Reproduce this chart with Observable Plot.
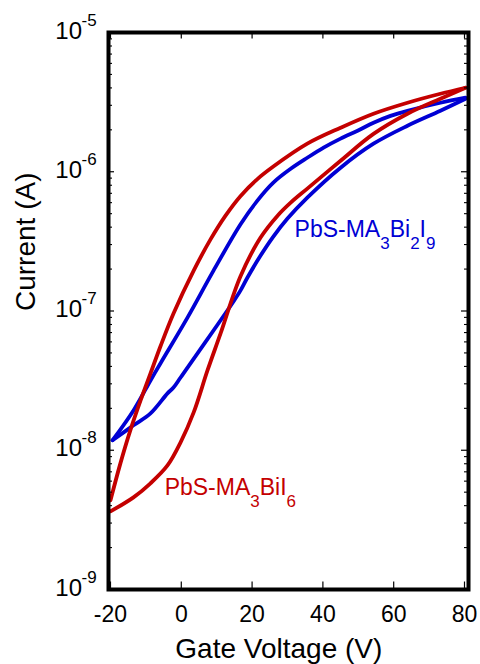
<!DOCTYPE html>
<html>
<head>
<meta charset="utf-8">
<script src="https://cdn.jsdelivr.net/npm/d3@7"></script>
<script src="https://cdn.jsdelivr.net/npm/@observablehq/plot@0.6"></script>
<style>
  html, body { margin: 0; padding: 0; background: #fff; }
  #chart svg { display: block; }
</style>
</head>
<body>
<div id="chart"></div>
<script>
// Transfer curves (drain current vs gate voltage), forward and reverse sweeps.

// PbS-MA3BiI6 — branch that rises steeply from -20 V
const redUpV = [-20, -17.2, -14.4, -11.5, -8.7, -5.9, -2.2, 3.5, 8.3, 12.5, 16.7, 21.5, 26.0, 35.6, 45.0, 54.3, 63.9, 73.2, 80.3];
const redUpI = [4.37e-9, 8.05e-9, 1.39e-8, 2.28e-8, 3.56e-8, 5.56e-8, 9.6e-8, 1.95e-7, 3.28e-7, 4.84e-7, 6.68e-7, 8.86e-7, 1.09e-6, 1.59e-6, 2.07e-6, 2.61e-6, 3.13e-6, 3.63e-6, 4.01e-6];
// PbS-MA3BiI6 — lower branch
const redDownV = [-20, -13.5, -8.7, -3.9, -0.2, 3.5, 7.4, 11.1, 16.7, 22.4, 27.2, 30.9, 35.6, 45.0, 54.3, 63.9, 73.2, 80.3];
const redDownI = [3.64e-9, 4.59e-9, 5.79e-9, 7.78e-9, 1.14e-8, 1.87e-8, 3.74e-8, 6.9e-8, 1.77e-7, 3.37e-7, 4.84e-7, 6.0e-7, 7.57e-7, 1.20e-6, 1.87e-6, 2.61e-6, 3.34e-6, 4.01e-6];

// PbS-MA3Bi2I9 — upper branch
const blueUpV = [-19.4, -13.5, -8.7, -5.9, 1.75, 9.1, 16.7, 21.5, 26.0, 30.9, 35.6, 40.2, 45.0, 49.8, 54.3, 59.1, 63.9, 73.2, 80.3];
const blueUpI = [1.18e-8, 1.93e-8, 3.17e-8, 4.20e-8, 8.97e-8, 1.95e-7, 4.18e-7, 6.21e-7, 8.36e-7, 1.05e-6, 1.26e-6, 1.49e-6, 1.73e-6, 1.97e-6, 2.25e-6, 2.52e-6, 2.74e-6, 3.13e-6, 3.40e-6];
// PbS-MA3Bi2I9 — lower branch
const blueDownV = [-19.4, -13.5, -8.7, -3.9, -2.2, -0.2, 2.6, 9.1, 14.75, 16.7, 18.7, 22.4, 26.0, 30.0, 35.6, 45.0, 54.3, 63.9, 73.2, 80.3];
const blueDownI = [1.18e-8, 1.51e-8, 1.84e-8, 2.56e-8, 2.82e-8, 3.33e-8, 4.20e-8, 7.24e-8, 1.17e-7, 1.40e-7, 1.74e-7, 2.50e-7, 3.42e-7, 4.61e-7, 6.52e-7, 1.07e-6, 1.59e-6, 2.14e-6, 2.74e-6, 3.34e-6];

// Axes
const xTicks = [-20, 0, 20, 40, 60, 80];
const yDecades = [1e-9, 1e-8, 1e-7, 1e-6, 1e-5];
const yMinor = [1e-9, 1e-8, 1e-7, 1e-6].flatMap(d => [2, 3, 4, 5, 6, 7, 8, 9].map(k => k * d));
const xTitle = "Gate Voltage (V)";
const yTitle = "Current (A)";

// Series labels: [text, isSubscript]
const blueLabel = [["PbS-MA", false], ["3", true], ["Bi", false], ["2", true], ["I", false], ["9", true]];
const redLabel = [["PbS-MA", false], ["3", true], ["BiI", false], ["6", true]];
const blueLabelAt = {v: 32.0, i: 3.42e-7};
const redLabelAt = {v: -4.7, i: 4.74e-9};

const RED = "#c40000";
const BLUE = "#0000d4";

const branch = (vs, is, name) => vs.map((v, k) => ({v, i: is[k], branch: name}));
const redRows = [...branch(redUpV, redUpI, "up"), ...branch(redDownV, redDownI, "down")];
const blueRows = [...branch(blueUpV, blueUpI, "up"), ...branch(blueDownV, blueDownI, "down")];

const W = 480, H = 664;
const M = {left: 108, right: 12, top: 32, bottom: 75};
const plotW = W - M.left - M.right;
const plotH = H - M.top - M.bottom;
const FONT = "'Liberation Sans', Arial, Helvetica, sans-serif";
const plain = parts => parts.map(p => p[0]).join("");

const chart = Plot.plot({
  width: W,
  height: H,
  marginLeft: M.left,
  marginRight: M.right,
  marginTop: M.top,
  marginBottom: M.bottom,
  style: {fontFamily: FONT, background: "#fff", color: "#000"},
  x: {domain: [-20.56, 81.13], axis: null},
  y: {type: "log", domain: [1e-9, 1e-5], axis: null},
  marks: [
    Plot.line(blueRows, {x: "v", y: "i", z: "branch", stroke: BLUE, strokeWidth: 3.8, curve: "catmull-rom"}),
    Plot.line(redRows, {x: "v", y: "i", z: "branch", stroke: RED, strokeWidth: 3.8, curve: "catmull-rom"}),

    // series labels
    Plot.text([blueLabelAt], {x: "v", y: "i", text: () => plain(blueLabel), textAnchor: "start", lineAnchor: "bottom", fill: BLUE, fontSize: 23}),
    Plot.text([redLabelAt], {x: "v", y: "i", text: () => plain(redLabel), textAnchor: "start", lineAnchor: "bottom", fill: RED, fontSize: 23}),

    // inward ticks: left / right (y), top / bottom (x)
    Plot.tickY(yDecades, {y: d => d, insetRight: plotW - 6, stroke: "#000", strokeWidth: 1.2}),
    Plot.tickY(yMinor, {y: d => d, insetRight: plotW - 4, stroke: "#000", strokeWidth: 1.1}),
    Plot.tickY(yDecades, {y: d => d, insetLeft: plotW - 7, stroke: "#000", strokeWidth: 1.2}),
    Plot.tickY(yMinor, {y: d => d, insetLeft: plotW - 4, stroke: "#000", strokeWidth: 1.1}),
    Plot.tickX(xTicks, {x: d => d, insetBottom: plotH - 6.5, stroke: "#000", strokeWidth: 1.2}),
    Plot.tickX(xTicks, {x: d => d, insetTop: plotH - 7.5, stroke: "#000", strokeWidth: 1.2}),

    // y tick labels: 10 with a superscript exponent
    Plot.text(yDecades, {y: d => d, frameAnchor: "left", text: () => "10", textAnchor: "end", lineAnchor: "bottom", dx: -26.5, dy: 6, fontSize: 24, fill: "#000"}),
    Plot.text(yDecades, {y: d => d, frameAnchor: "left", text: d => String(Math.round(Math.log10(d))), textAnchor: "start", lineAnchor: "bottom", dx: -27, dy: -7, fontSize: 17, fill: "#000"}),

    // x tick labels
    Plot.text(xTicks, {x: d => d, frameAnchor: "bottom", text: d => String(d), lineAnchor: "bottom", dy: 32.5, fontSize: 23, fill: "#000"}),

    // axis titles
    Plot.text([xTitle], {frameAnchor: "bottom", text: d => d, lineAnchor: "bottom", dx: -9.7, dy: 68, fontSize: 28, fill: "#000"}),
    Plot.text([yTitle], {frameAnchor: "left", text: d => d, rotate: -90, lineAnchor: "bottom", dx: -74, fontSize: 28, fill: "#000"}),

    Plot.frame({stroke: "#000", strokeWidth: 4})
  ]
});

// Rewrite the series labels with true subscripts
function subscriptify(svg, parts) {
  const target = plain(parts);
  svg.querySelectorAll("text").forEach(t => {
    if (t.textContent !== target) return;
    while (t.firstChild) t.removeChild(t.firstChild);
    let shifted = false;
    for (const [s, sub] of parts) {
      const ts = document.createElementNS("http://www.w3.org/2000/svg", "tspan");
      ts.textContent = s;
      if (sub && !shifted) { ts.setAttribute("dy", "12"); shifted = true; }
      else if (!sub && shifted) { ts.setAttribute("dy", "-12"); shifted = false; }
      if (sub) ts.setAttribute("font-size", "17");
      t.appendChild(ts);
    }
  });
}
subscriptify(chart, blueLabel);
subscriptify(chart, redLabel);

document.getElementById("chart").appendChild(chart);
</script>
</body>
</html>
